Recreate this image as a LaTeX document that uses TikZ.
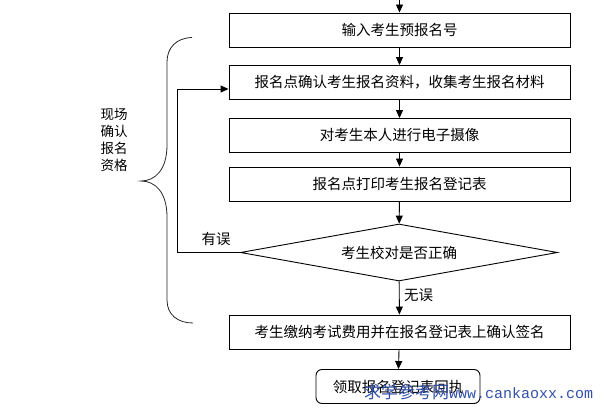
\documentclass[tikz,border=0pt]{standalone}
\usepackage{fontspec}
\setmainfont{Noto Sans CJK SC}
\newfontfamily\wmmono{Liberation Mono}
\usetikzlibrary{shapes.geometric,arrows.meta}
\definecolor{wmblue}{RGB}{50,80,170}
\begin{document}
\begin{tikzpicture}[x=1pt,y=-1pt,
  box/.style={draw,line width=0.9pt,minimum width=341pt,minimum height=34pt,inner sep=0pt,font=\fontsize{14.5}{16}\selectfont},
  arr/.style={line width=0.9pt,-{Triangle[length=8pt,width=7pt]}},
  lbl/.style={font=\fontsize{14.5}{16}\selectfont,inner sep=0pt}]
\useasboundingbox (0,0) rectangle (610,414);
\node[box] (b1) at (399.5,30) {输入考生预报名号};
\node[box] (b2) at (399.5,82.5) {报名点确认考生报名资料，收集考生报名材料};
\node[box] (b3) at (399.5,135.5) {对考生本人进行电子摄像};
\node[box] (b4) at (399.5,184) {报名点打印考生报名登记表};
\node[draw,line width=0.9pt,shape=diamond,aspect=5.56,minimum width=317pt,minimum height=57pt,inner sep=0pt,font=\fontsize{14.5}{16}\selectfont] (dia) at (399,252.5) {考生校对是否正确};
\node[box] (b5) at (399.5,332) {考生缴纳考试费用并在报名登记表上确认签名};
\node[box,minimum width=164pt,rounded corners=6pt] (b6) at (398,386.5) {领取报名登记表回执};
\coordinate (top) at (399.5,0);
\coordinate (lc) at (177,89);
\draw[arr] (top) -- (b1.north);
\draw[arr] (b1) -- (b2);
\draw[arr] (b2) -- (b3);
\draw[arr] (b3) -- (b4);
\draw[arr] (b4) -- (dia);
\draw[arr] (dia) -- (b5);
\draw[arr] (b5) -- (b6);
\draw[arr] (dia.west) -| (lc) -- (b2.west |- lc);
\node[lbl] (yw) at (216,239) {有误};
\node[lbl,anchor=west] (ww) at (404,295) {无误};
\draw[line width=0.8pt,black!85] (192,37.5) .. controls (176,38) and (167,48) .. (167,62) -- (167,145)
  .. controls (167,170) and (155,181) .. (141,181)
  .. controls (155,181) and (167,192) .. (167,217) -- (167,300)
  .. controls (167,315) and (178,323) .. (193,323);
\node[align=center,inner sep=0pt,font=\fontsize{13.5}{17}\selectfont] (side) at (114,140) {现场\\确认\\报名\\资格};
\node[anchor=west,inner sep=0pt,text=wmblue] (wm) at (364,392) {\fontsize{17}{18}\selectfont 求学参考网{\wmmono\fontsize{15}{16}\selectfont www.cankaoxx.com}};
\end{tikzpicture}
\end{document}
